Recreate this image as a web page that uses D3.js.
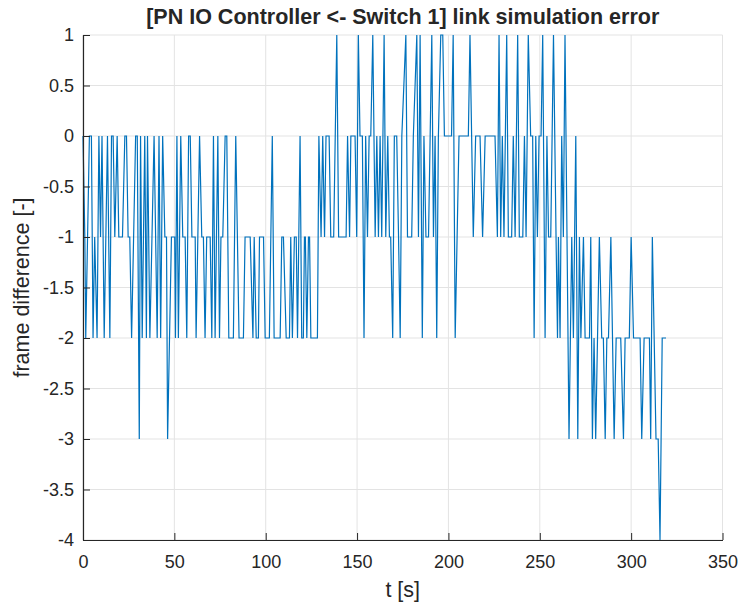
<!DOCTYPE html>
<html>
<head>
<meta charset="utf-8">
<script src="https://cdn.jsdelivr.net/npm/d3@7"></script>
<style>
  body { margin: 0; background: #fff; }
  text { font-family: "Liberation Sans", Arial, sans-serif; fill: #262626; }
</style>
</head>
<body>
<div id="chart"></div>
<script>
// vertices of the trace (t in s, frame difference)
const time = [0, 1, 1.5, 3.5, 4.6, 5.5, 6.4, 7.7, 8.7, 9.6, 10.4, 11.6, 13.4, 14.7, 15.6, 16.5, 17.4, 18.7, 19.6, 21.6,
  22.9, 23.8, 24.7, 25.6, 26.6, 28.8, 29.7, 30.8, 31.5, 32.4, 33.8, 34.7, 35.3, 36.6, 38.9, 40.6, 41.6, 42.5, 43.6, 44.8,
  45.7, 46.3, 48.4, 50.2, 50.6, 51.4, 52.2, 53.5, 54.6, 55.9, 56.8, 57.8, 58.7, 59.6, 61.4, 61.9, 63.8, 65.0, 65.9, 66.8,
  67.7, 69.6, 70.5, 71.4, 72.3, 73.8, 74.7, 75.5, 76.5, 77.8, 78.7, 79.8, 82.3, 83.6, 85.4, 87.8, 88.7, 91.5, 93.0, 93.7,
  94.8, 96.0, 96.6, 98.8, 99.7, 102.0, 103.6, 104.6, 107.9, 108.8, 109.7, 111.2, 113.0, 113.7, 114.6, 115.7, 116.7, 117.4, 118.8, 119.7,
  120.6, 121.2, 121.7, 122.5, 123.4, 124.0, 124.7, 128.3, 129.1, 130.3, 131.2, 132.2, 133.0, 134.7, 135.6, 137.2, 138.9, 139.9, 144.0, 144.8,
  145.9, 146.6, 148.9, 149.8, 150.7, 151.6, 152.9, 153.8, 154.7, 155.7, 156.6, 157.5, 158.6, 159.9, 160.8, 161.7, 162.6, 163.5, 164.8, 165.7,
  166.8, 167.7, 168.4, 169.5, 170.4, 171.7, 172.7, 173.6, 174.5, 176.7, 177.6, 179.9, 180.8, 182.7, 183.6, 184.5, 185.7, 186.6, 187.7, 189.1,
  190.9, 191.8, 192.7, 193.6, 194.5, 195.8, 196.9, 197.8, 201.7, 202.6, 203.7, 205.8, 210.9, 211.8, 213.6, 214.9, 217.3, 218.7, 220.1, 225.5,
  226.8, 227.7, 228.6, 229.5, 230.4, 231.9, 232.8, 234.6, 235.5, 236.5, 237.9, 238.8, 240.7, 241.6, 242.5, 243.7, 245.0, 246.1, 246.9, 247.8,
  248.7, 249.6, 250.7, 251.6, 252.9, 253.9, 254.8, 256.0, 257.5, 258.9, 259.7, 260.2, 261.1, 262.0, 262.9, 263.8, 266.0, 267.5, 268.4, 269.7,
  270.8, 271.7, 272.5, 273.9, 274.8, 277.2, 277.9, 278.8, 279.7, 280.6, 282.6, 283.9, 284.8, 285.8, 286.7, 287.6, 288.9, 290.7, 291.8, 294.3,
  295.8, 296.7, 299.0, 300.0, 301.3, 304.9, 305.8, 307.1, 310.0, 310.7, 311.6, 313.6, 314.8, 315.8, 317.0, 319.1];
const frameDiff = [0, -1, -2, 0, 0, -2, -1, -2, 0, -1, 0, -2, 0, -2, 0, 0, -1, 0, -1, -1,
  0, 0, -1, -1, -2, 0, 0, -3, 0, -2, 0, -2, 0, -2, 0, -2, 0, -2, 0, -1,
  -1, -3, -1, -1, -2, 0, -2, 0, -1, -1, -2, 0, 0, -1, -1, -2, 0, -1, -1, -2,
  -1, -1, -2, 0, -2, 0, -2, -1, -1, 0, 0, -2, -2, 0, -2, -2, -1, -1, -2, -1,
  -2, -2, -1, -1, -2, -2, 0, -2, -2, -1, -1, -2, -2, -1, -2, -1, -1, -2, 0, -2,
  -2, -1, -1, -2, -1, -1, -2, -2, 0, -1, 0, -1, 0, 0, -1, -1, 1, -1, -1, 0,
  -1, 0, 0, -1, 1, 0, 0, -2, 0, -1, 0, 0, 1, -1, 0, -1, 0, -1, 1, -1,
  0, -1, -1, -2, 0, 0, -1, -2, 0, 1, -1, -1, 0, 1, -1, 1, -2, 0, -1, -1,
  1, -1, 0, -2, 0, 1, 1, 0, 0, 1, -2, 0, 0, 1, -1, 0, 0, -1, 0, 0,
  -1, 1, -1, 0, -1, 1, -1, -1, 0, -1, 1, -1, -1, 0, -1, 1, 0, 0, -2, 0,
  -1, 0, 0, 1, -2, 0, -1, -1, 1, -1, -2, -1, -2, 0, -1, 1, -3, -1, -2, 0,
  -3, -1, -2, -1, -2, -2, -1, -3, -2, -3, -1, -2, -2, -3, -2, -2, -1, -3, -2, -2,
  -3, -2, -2, -1, -2, -2, -3, -2, -2, -3, -1, -3, -3, -4, -2, -2];

const xTicks = [0, 50, 100, 150, 200, 250, 300, 350];
const yTicks = [1, 0.5, 0, -0.5, -1, -1.5, -2, -2.5, -3, -3.5, -4];

const titleText = "[PN IO Controller <- Switch 1] link simulation error";
const xLabel = "t [s]";
const yLabel = "frame difference [-]";

const W = 742, H = 607;
const margin = { TOP: 35, BOTTOM: 67, LEFT: 83, RIGHT: 19.5 };

const svg = d3.select("#chart").append("svg")
  .attr("width", W)
  .attr("height", H);

const x = d3.scaleLinear().domain([0, 350]).range([margin.LEFT, W - margin.RIGHT]);
const y = d3.scaleLinear().domain([-4, 1]).range([H - margin.BOTTOM, margin.TOP]);

// grid
svg.append("g").selectAll("line.gx")
  .data(xTicks).enter().append("line")
  .attr("x1", d => x(d)).attr("x2", d => x(d))
  .attr("y1", y(-4)).attr("y2", y(1))
  .attr("stroke", "#e3e3e3").attr("stroke-width", 1);
svg.append("g").selectAll("line.gy")
  .data(yTicks).enter().append("line")
  .attr("x1", x(0)).attr("x2", x(350))
  .attr("y1", d => y(d)).attr("y2", d => y(d))
  .attr("stroke", "#e3e3e3").attr("stroke-width", 1);

// data
const pts = time.map((t, i) => [t, frameDiff[i]]);
svg.append("path")
  .datum(pts)
  .attr("fill", "none")
  .attr("stroke", "#0072BD")
  .attr("stroke-width", 1.2)
  .attr("d", d3.line().x(d => x(d[0])).y(d => y(d[1])));

// axes, ticks pointing inward
const xAxis = svg.append("g")
  .attr("transform", `translate(0,${y(-4)})`)
  .call(d3.axisBottom(x).tickValues(xTicks).tickSizeInner(-7).tickSizeOuter(0).tickPadding(15).tickFormat(d3.format("d")));
const yAxis = svg.append("g")
  .attr("transform", `translate(${x(0)},0)`)
  .call(d3.axisLeft(y).tickValues(yTicks).tickSizeInner(-7).tickSizeOuter(0).tickPadding(9).tickFormat(d => String(d)));

[xAxis, yAxis].forEach(a => {
  a.select(".domain").attr("stroke", "#262626").attr("stroke-width", 1.2);
  a.selectAll(".tick line").attr("stroke", "#262626");
  a.selectAll(".tick text")
    .attr("fill", "#262626")
    .style("font-size", "18px")
    .style("font-family", "'Liberation Sans', Arial, sans-serif");
});

// titles
svg.append("text")
  .attr("x", (x(0) + x(350)) / 2)
  .attr("y", 24)
  .attr("text-anchor", "middle")
  .style("font-size", "21.5px")
  .style("font-weight", "bold")
  .text(titleText);

svg.append("text")
  .attr("x", (x(0) + x(350)) / 2)
  .attr("y", 597)
  .attr("text-anchor", "middle")
  .style("font-size", "21.5px")
  .text(xLabel);

svg.append("text")
  .attr("transform", `translate(29,${(y(1) + y(-4)) / 2}) rotate(-90)`)
  .attr("text-anchor", "middle")
  .style("font-size", "21.5px")
  .text(yLabel);
</script>
</body>
</html>
